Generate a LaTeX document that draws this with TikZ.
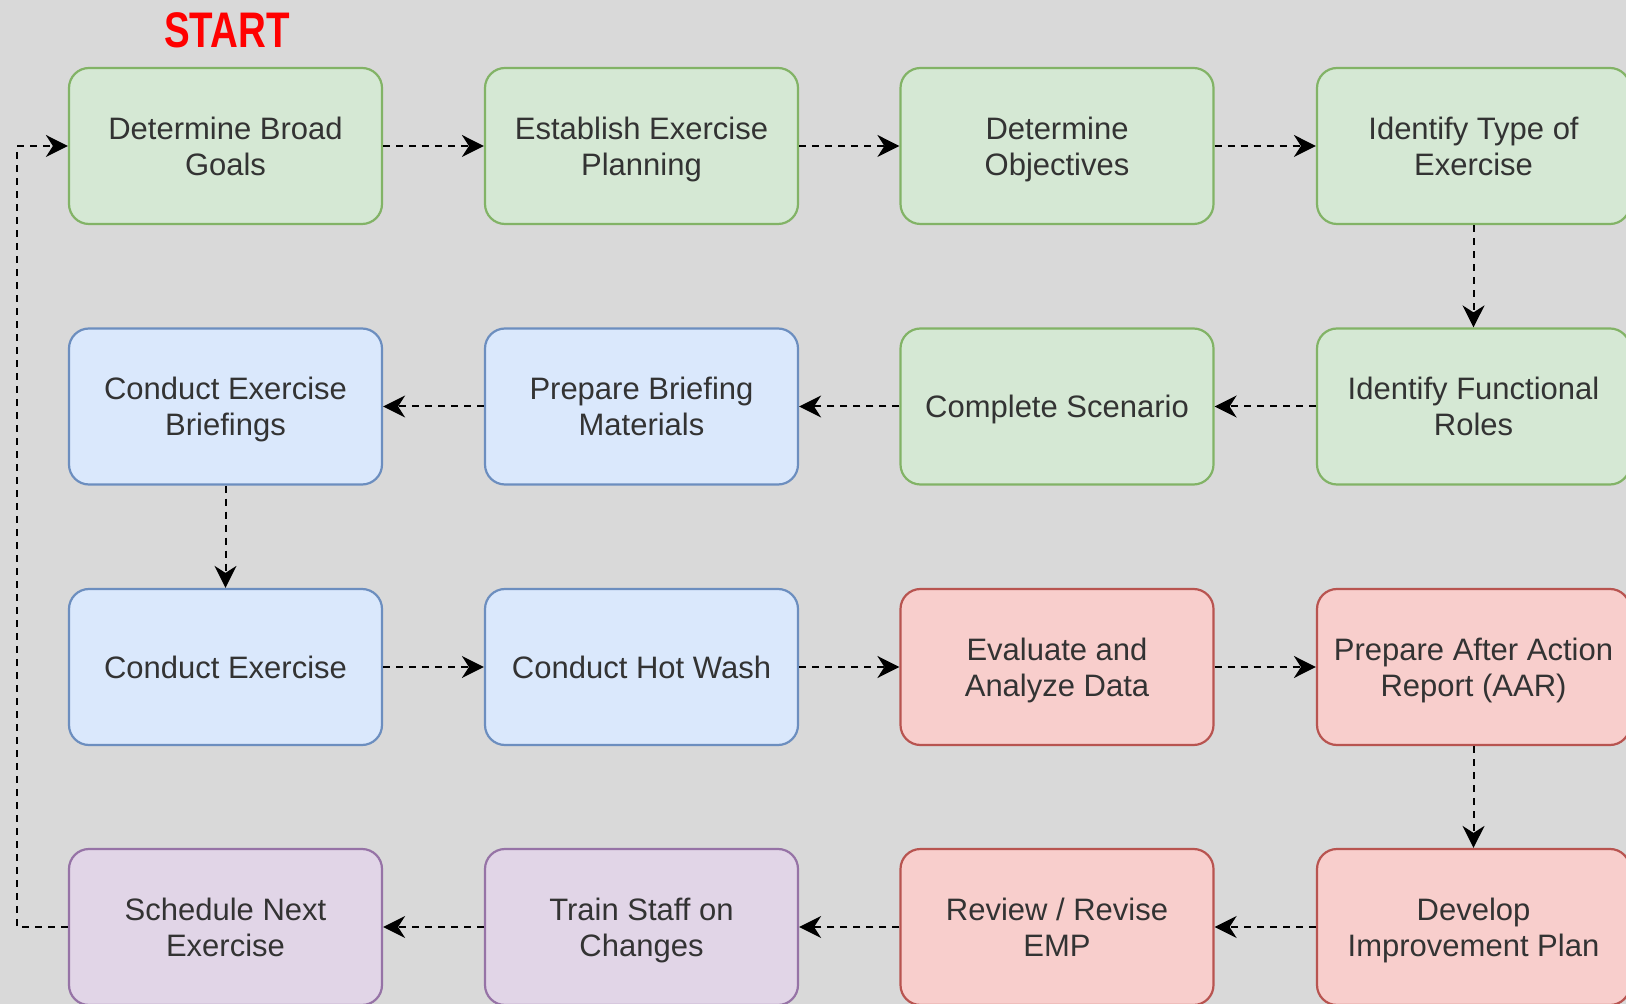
\documentclass[tikz,border=0pt]{standalone}
\usepackage{fontspec}
\setmainfont{Liberation Sans}
\usetikzlibrary{arrows.meta}
\definecolor{bgGray}{HTML}{D9D9D9}
\definecolor{textGray}{HTML}{333333}
\definecolor{greenFill}{HTML}{D5E8D4}
\definecolor{greenLine}{HTML}{82B366}
\definecolor{blueFill}{HTML}{DAE8FC}
\definecolor{blueLine}{HTML}{6C8EBF}
\definecolor{redFill}{HTML}{F8CECC}
\definecolor{redLine}{HTML}{B85450}
\definecolor{purpleFill}{HTML}{E1D5E7}
\definecolor{purpleLine}{HTML}{9673A6}
\definecolor{startRed}{HTML}{FF0000}

\begin{document}
\begin{tikzpicture}[x=0.5pt, y=-0.5pt, >={Stealth[length=11pt,width=11pt,inset=3.5pt]},
   stagebox/.style={rectangle, rounded corners=10pt, minimum width=156.5pt,
     minimum height=78pt, line width=1.1pt, align=center, inner sep=0pt,
     text depth=0pt,
     text=textGray, font=\fontsize{15.5}{18}\selectfont},
   greenbox/.style={stagebox, draw=greenLine, fill=greenFill},
   bluebox/.style={stagebox, draw=blueLine, fill=blueFill},
   redbox/.style={stagebox, draw=redLine, fill=redFill},
   purplebox/.style={stagebox, draw=purpleLine, fill=purpleFill},
   flow/.style={->, line width=1pt, dash pattern=on 3.5pt off 3pt}
   ]

   \useasboundingbox (0,0) rectangle (1626,1004);
   \clip (0,0) rectangle (1626,1004);
   \fill[bgGray] (0,0) rectangle (1626,1004);

   \node[text=startRed, font=\fontsize{25}{28}\bfseries] (start) at (227,30) {\scalebox{0.77}[1]{START}};

   % first row
   \path (225.5,146) node[greenbox] (goals) {Determine Broad\\Goals}
   (641.5,146) node[greenbox] (planning) {Establish Exercise\\Planning}
   (1057,146) node[greenbox] (objectives) {Determine\\Objectives}
   (1473.5,146) node[greenbox] (type) {Identify Type of\\Exercise};

   % second row
   \path (225.5,406.5) node[bluebox] (briefings) {Conduct Exercise\\Briefings}
   (641.5,406.5) node[bluebox] (materials) {Prepare Briefing\\Materials}
   (1057,406.5) node[greenbox] (scenario) {Complete Scenario}
   (1473.5,406.5) node[greenbox] (roles) {Identify Functional\\Roles};

   % third row
   \path (225.5,667) node[bluebox] (exercise) {Conduct Exercise}
   (641.5,667) node[bluebox] (hotwash) {Conduct Hot Wash}
   (1057,667) node[redbox] (evaluate) {Evaluate and\\Analyze Data}
   (1473.5,667) node[redbox] (aar) {Prepare After Action\\Report (AAR)};

   % fourth row
   \path (225.5,927) node[purplebox] (next) {Schedule Next\\Exercise}
   (641.5,927) node[purplebox] (train) {Train Staff on\\Changes}
   (1057,927) node[redbox] (review) {Review / Revise\\EMP}
   (1473.5,927) node[redbox] (improve) {Develop\\Improvement Plan};

   \draw[flow] (goals) -- (planning);
   \draw[flow] (planning) -- (objectives);
   \draw[flow] (objectives) -- (type);
   \draw[flow] (type) -- (roles);
   \draw[flow] (roles) -- (scenario);
   \draw[flow] (scenario) -- (materials);
   \draw[flow] (materials) -- (briefings);
   \draw[flow] (briefings) -- (exercise);
   \draw[flow] (exercise) -- (hotwash);
   \draw[flow] (hotwash) -- (evaluate);
   \draw[flow] (evaluate) -- (aar);
   \draw[flow] (aar) -- (improve);
   \draw[flow] (improve) -- (review);
   \draw[flow] (review) -- (train);
   \draw[flow] (train) -- (next);

   % back to the start
   \coordinate (loop) at (17,0);
   \draw[flow] (next.west) -- (next.west -| loop) |- (goals.west);

\end{tikzpicture}
\end{document}
